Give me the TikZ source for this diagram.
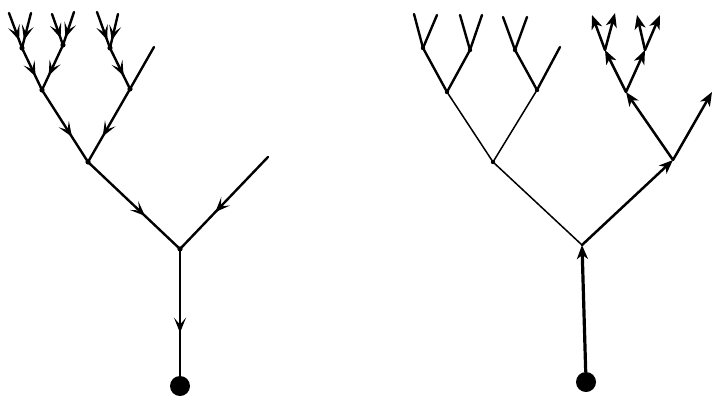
\documentclass[tikz,border=0pt]{standalone}
\usetikzlibrary{arrows.meta,decorations.markings}
\begin{document}
\begin{tikzpicture}[x=1pt,y=-1pt,line cap=round,line join=round,
  barb/.tip={Stealth[length=15pt,width=12pt,inset=7pt]},
  uptip/.tip={Stealth[length=14pt,width=11pt,inset=4pt]},
  edge/.style={line width=2.4pt},
  thinedge/.style={line width=1.5pt},
  boldedge/.style={line width=2.5pt,-{uptip}},
  midarr/.style={postaction={decorate},
    decoration={markings,mark=at position #1 with {\arrow{barb}}}},
  blob/.style={fill=black},
  rootdot/.style={circle,fill=black,inner sep=0pt,minimum size=20pt}]
\useasboundingbox (0,0) rectangle (714,399);

% ---- tree with inward arrows ----
\node[rootdot] (r) at (180,386) {};
\coordinate (a0) at (180,249);
\coordinate (aR) at (268,157);
\coordinate (a1) at (88,162);
\coordinate (a2) at (42,90);
\coordinate (a3) at (130,89);
\coordinate (a3R) at (154,47);
\coordinate (a4) at (22,48);
\coordinate (a5) at (63,45);
\coordinate (a6) at (110,48);
\coordinate (l1) at (9,13);
\coordinate (l2) at (31,13);
\coordinate (l3) at (52,14);
\coordinate (l4) at (74,12);
\coordinate (l5) at (97,12);
\coordinate (l6) at (118,14);

\draw[edge,midarr=0.66] (a0) -- (r);
\draw[edge,midarr=0.6] (aR) -- (a0);
\draw[edge,midarr=0.62] (a1) -- (a0);
\draw[edge,midarr=0.65] (a2) -- (a1);
\draw[edge,midarr=0.65] (a3) -- (a1);
\draw[edge] (a3R) -- (a3);
\draw[edge,midarr=0.68] (a4) -- (a2);
\draw[edge,midarr=0.68] (a5) -- (a2);
\draw[edge,midarr=0.68] (a6) -- (a3);
\foreach \leaf/\base in {l1/a4,l2/a4,l3/a5,l4/a5,l5/a6,l6/a6}
  \draw[edge,midarr=0.78] (\leaf) -- (\base);
\foreach \j in {a0,a1,a2,a3,a4,a5,a6}
  \fill[blob] (\j) circle (2.6pt);

% ---- tree with outward path ----
\node[rootdot] (R) at (586,382) {};
\coordinate (b0) at (582,245);
\coordinate (b1) at (493,162);
\coordinate (b2) at (447,92);
\coordinate (b3) at (537,90);
\coordinate (b4) at (423,48);
\coordinate (b5) at (470,50);
\coordinate (b6) at (515,50);
\coordinate (b3R) at (560,47);
\coordinate (m1) at (414,14);
\coordinate (m2) at (437,15);
\coordinate (m3) at (460,15);
\coordinate (m4) at (482,15);
\coordinate (m5) at (503,17);
\coordinate (m6) at (527,17);
\coordinate (c1) at (673,160);
\coordinate (cR) at (712,92);
\coordinate (c2) at (626,92);
\coordinate (c3) at (605,50);
\coordinate (c4) at (645,50);
\coordinate (n1) at (592,15);
\coordinate (n2) at (615,13);
\coordinate (n3) at (637,15);
\coordinate (n4) at (660,15);

\draw[thinedge] (b0) -- (b1);
\draw[thinedge] (b1) -- (b2);
\draw[thinedge] (b1) -- (b3);
\draw[edge] (b2) -- (b4);
\draw[edge] (b2) -- (b5);
\draw[edge] (b3) -- (b6);
\draw[edge] (b3) -- (b3R);
\foreach \leaf/\base in {m1/b4,m2/b4,m3/b5,m4/b5,m5/b6,m6/b6}
  \draw[edge] (\base) -- (\leaf);
\foreach \j in {b1,b2,b3,b4,b5,b6}
  \fill[blob] (\j) circle (2.2pt);

\draw[boldedge,line width=3.2pt] (R) -- (b0);
\draw[boldedge] (b0) -- (c1);
\draw[boldedge] (c1) -- (c2);
\draw[boldedge] (c1) -- (cR);
\draw[boldedge] (c2) -- (c3);
\draw[boldedge] (c2) -- (c4);
\foreach \leaf/\base in {n1/c3,n2/c3,n3/c4,n4/c4}
  \draw[boldedge] (\base) -- (\leaf);
\end{tikzpicture}
\end{document}
